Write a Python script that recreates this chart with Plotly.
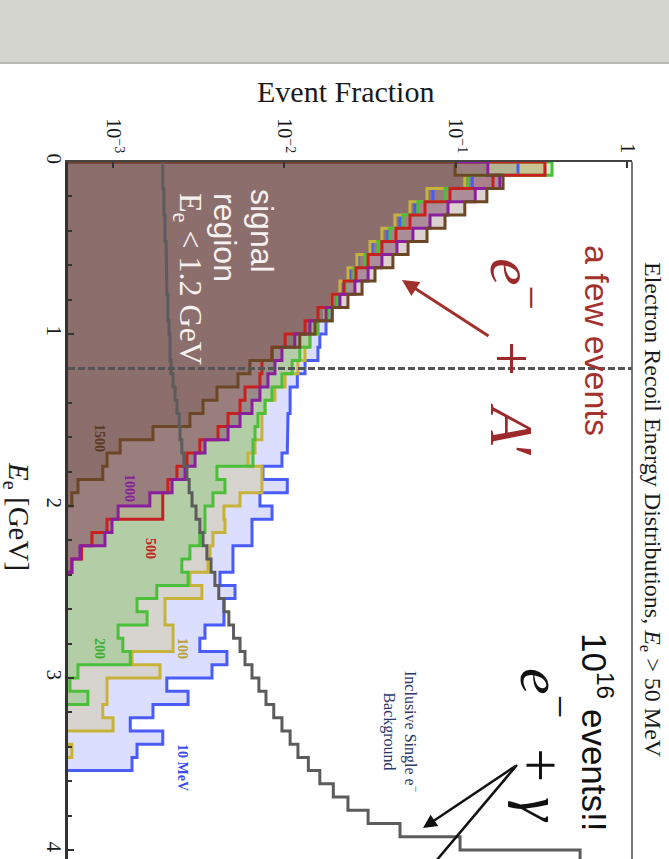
import numpy as np
import plotly.graph_objects as go

# ---------------- data (event fraction per energy bin, E from 0 GeV upward) ----------------
n_bins = 52
e_max = 4.0
signal_labels = ["10 MeV", "100", "200", "500", "1000", "1500"]

frac_10MeV = [0.231, 0.125, 0.0737, 0.0578, 0.0473, 0.0402, 0.0325, 0.0269, 0.0241, 0.0220,
              0.0203, 0.0190, 0.0175, 0.0161, 0.0157, 0.0132, 0.0119, 0.0108, 0.0108, 0.0105,
              0.0105, 0.0104, 0.00968, 0.0075, 0.0104, 0.0072, 0.00847, 0.00647, 0.00647, 0.00501,
              0.00501, 0.00421, 0.00515, 0.00444, 0.00444, 0.00344, 0.00321, 0.00462, 0.00378, 0.00206,
              0.00274, 0.00171, 0.00126, 0.00195, 0.00138, 0.00129]
frac_100 = [0.33, 0.113, 0.068, 0.0541, 0.0442, 0.0371, 0.0316, 0.0265, 0.0235, 0.0211,
            0.0190, 0.0172, 0.0157, 0.0141, 0.0132, 0.0120, 0.0101, 0.00881, 0.00771, 0.0074,
            0.0074, 0.00674, 0.00613, 0.0074, 0.0074, 0.00551, 0.00444, 0.0045, 0.00383, 0.00368,
            0.00358, 0.00281, 0.0033, 0.00201, 0.00201, 0.00224, 0.00224, 0.00129, 0.00188, 0.000922,
            0.000922, 0.000871, 0.001, 0, 0.000575]
frac_200 = [0.365, 0.118, 0.0866, 0.0602, 0.0492, 0.0413, 0.0352, 0.0296, 0.0255, 0.0226,
            0.0203, 0.018, 0.0157, 0.0141, 0.0123, 0.0111, 0.00968, 0.00847, 0.00771, 0.00701,
            0.00674, 0.00656, 0.00656, 0.00404, 0.0045, 0.00383, 0.00344, 0.00344, 0.00321, 0.00281,
            0.00252, 0.00274, 0.0018, 0.00138, 0.00158, 0.00107, 0.00114, 0.00126, 0.000624, 0.00056,
            0.000713]
frac_500 = [0.332, 0.165, 0.0926, 0.0662, 0.0541, 0.0448, 0.0371, 0.0308, 0.0262, 0.0223,
            0.019, 0.0157, 0.0132, 0.0101, 0.00847, 0.0074, 0.0072, 0.00589, 0.00551, 0.00469,
            0.0041, 0.00321, 0.0027, 0.00236, 0.00209, 0.00195, 0.00195, 0.000922, 0.000753, 0.000655,
            0.000575]
frac_1000 = [0.154, 0.181, 0.13, 0.0902, 0.0708, 0.0563, 0.0454, 0.0371, 0.0308, 0.0258,
             0.0211, 0.0175, 0.0141, 0.0115, 0.00968, 0.00881, 0.00802, 0.0072, 0.00647, 0.00551,
             0.00469, 0.00344, 0.00301, 0.00263, 0.00221, 0.00164, 0.00107, 0.000986, 0.000897, 0.000641,
             0.000575]
frac_1500 = [0.0991, 0.189, 0.152, 0.113, 0.0866, 0.068, 0.0527, 0.043, 0.0338, 0.0284,
             0.0235, 0.019, 0.0151, 0.0123, 0.00847, 0.00629, 0.00536, 0.00404, 0.00335, 0.00281,
             0.00171, 0.0011, 0.000922, 0.000871, 0.000624, 0.000575]
frac_background = [1.95e-3, 1.95e-3, 1.98e-3, 1.98e-3, 2.01e-3, 2.01e-3, 2.04e-3, 2.04e-3, 2.06e-3, 2.06e-3,
                   2.09e-3, 2.09e-3, 2.12e-3, 2.15e-3, 2.15e-3, 2.18e-3, 2.24e-3, 2.30e-3, 2.36e-3, 2.43e-3,
                   2.46e-3, 2.52e-3, 2.59e-3, 2.70e-3, 2.78e-3, 2.89e-3, 3.05e-3, 3.21e-3, 3.35e-3, 3.53e-3,
                   3.73e-3, 3.93e-3, 4.14e-3, 4.44e-3, 4.74e-3, 5.05e-3, 5.51e-3, 5.89e-3, 6.47e-3, 7.10e-3,
                   7.81e-3, 8.67e-3, 9.68e-3, 1.08e-2, 1.20e-2, 1.38e-2, 1.61e-2, 1.93e-2, 2.35e-2, 3.08e-2,
                   4.73e-2, 0.106, 0.532]

signal_cut = 1.2
x_tick_vals = [1e-3, 1e-2, 1e-1, 1]
x_tick_text = ["10<sup>\u22123</sup>", "10<sup>\u22122</sup>", "10<sup>\u22121</sup>", "1"]
e_tick_vals = [0, 1, 2, 3, 4]

# ---------------- styling ----------------
W, H = 669, 859
L, R, T, B = 68, 37, 162, 0
PX_PER_GEV = 172.0
E_BOTTOM = (H - T) / PX_PER_GEV
LOG_RANGE = [-3.263, 0.029]
FLOOR = 1e-5
SERIF = "Liberation Serif, Times New Roman, serif"
SANS = "Liberation Sans, Arial, sans-serif"
NB = "\u00a0"

series = [
    (frac_10MeV, "#4a5cf7", "rgba(80,90,255,0.20)"),
    (frac_100, "#c7b23a", "rgba(200,180,60,0.25)"),
    (frac_200, "#4cbf3a", "rgba(60,190,40,0.23)"),
    (frac_500, "#c8201e", "rgba(200,30,30,0.14)"),
    (frac_1000, "#8a1f9e", "rgba(120,60,100,0.45)"),
    (frac_1500, "#6b4726", "rgba(100,60,50,0.23)"),
]

bin_w = e_max / n_bins


def edges_for(n):
    return [i * bin_w for i in range(n + 1)]


def step_outline(vals):
    ed = edges_for(len(vals))
    xs, ys = [], []
    for i, v in enumerate(vals):
        vv = v if v > 0 else FLOOR
        xs += [vv, vv]
        ys += [ed[i], ed[i + 1]]
    return xs, ys


def step_polygon(vals):
    xs, ys = step_outline(vals)
    return [FLOOR] + xs + [FLOOR], [0.0] + ys + [ys[-1]]


fig = go.Figure()

for vals, lc, fc in series:
    px_, py_ = step_polygon(vals)
    fig.add_trace(go.Scatter(x=px_, y=py_, mode="lines", fill="toself", fillcolor=fc,
                             line=dict(width=0, color="rgba(0,0,0,0)"), hoverinfo="skip",
                             showlegend=False))
for vals, lc, fc in series:
    px_, py_ = step_polygon(vals)
    fig.add_trace(go.Scatter(x=px_, y=py_, mode="lines", line=dict(width=3, color=lc),
                             hoverinfo="skip", showlegend=False))

bx, by = step_outline(frac_background)
fig.add_trace(go.Scatter(x=bx, y=by, mode="lines", line=dict(width=3, color="#5c5c5c"),
                         hoverinfo="skip", showlegend=False))


def P(x, y):
    return (x - L) / (W - L - R), (H - y) / (H - T - B)


shapes = []
# grey header band
x0, y0 = P(0, 63)
x1, y1 = P(W, 0)
shapes.append(dict(type="rect", xref="paper", yref="paper", x0=x0, x1=x1, y0=y0, y1=y1,
                   fillcolor="#d5d5cf", line=dict(width=0), layer="below"))
xa, ya = P(0, 63)
xb, _ = P(W, 63)
shapes.append(dict(type="line", xref="paper", yref="paper", x0=xa, x1=xb, y0=ya, y1=ya,
                   line=dict(color="#b9b9b3", width=2)))
# right frame
shapes.append(dict(type="line", xref="paper", yref="paper", x0=1, x1=1, y0=0, y1=1,
                   line=dict(color="#777777", width=2)))
# signal region cut
shapes.append(dict(type="line", xref="paper", yref="y", x0=0, x1=1, y0=signal_cut, y1=signal_cut,
                   line=dict(color="#555555", width=3, dash="7px,3px")))
# black arrow second line
sx0, sy0 = P(517, 765)
sx1, sy1 = P(436, 861)
shapes.append(dict(type="line", xref="paper", yref="paper", x0=sx0, y0=sy0, x1=sx1, y1=sy1,
                   line=dict(color="#111111", width=2.5)))

ann = []


def text(x, y, s, size, color, family=SERIF, angle=90):
    xx, yy = P(x, y)
    ann.append(dict(xref="paper", yref="paper", x=xx, y=yy, text=s, showarrow=False,
                    textangle=angle, xanchor="center", yanchor="middle",
                    font=dict(family=family, size=size, color=color)))


def arrow(hx, hy, tx, ty, color, width):
    xx, yy = P(hx, hy)
    ann.append(dict(xref="paper", yref="paper", x=xx, y=yy, text="", showarrow=True,
                    ax=tx - hx, ay=ty - hy, arrowcolor=color, arrowwidth=width,
                    arrowhead=2, arrowsize=1.1, standoff=0, startstandoff=0))


text(345, 91, "Event Fraction", 30, "#1a1a1a", angle=0)
text(651, 510, "Electron Recoil Energy Distributions, <i>E</i><sub>e</sub> > 50 MeV", 24, "#1a1a1a")
text(17, 516, "<i>E</i><sub>e</sub> [GeV]", 29, "#1a1a1a")

text(262, 231, "signal", 32, "#f6f1f1", family=SANS)
text(225, 237, "region", 32, "#f6f1f1", family=SANS)
text(189, 279, "E<sub>e</sub> < 1.2 GeV", 32, "#f6f1f1")

text(597, 340, "a few events", 34, "#a3322e", family=SANS)
text(517, 358, "<i>e</i><sup>\u2212</sup>" + NB * 2 + "+" + NB * 2 + "<i>A</i>\u2032", 62, "#9c2a2a")
text(597, 732, "10<sup>16</sup> events!!", 35, "#111111", family=SANS)
text(546, 745, "<i>e</i><sup>\u2212</sup>" + NB * 2 + "+" + NB + "<i>\u03b3</i>", 60, "#111111")
text(401, 731, "Inclusive Single e<sup>\u2212</sup><br>Background", 16, "#2c3a6a")

label_pos = {"1500": (100, 438, "#5a3a1e"), "1000": (130, 488, "#8a1f9e"), "500": (151, 548, "#c8201e"),
             "200": (100, 648, "#3fae30"), "100": (183, 648, "#b8a42e"), "10 MeV": (183, 767, "#3a4cf0")}
for lab in signal_labels:
    x, y, c = label_pos[lab]
    text(x, y, "<b>" + lab + "</b>", 14, c)

arrow(402, 280, 490, 337, "#a0302c", 3)
arrow(423, 828, 517, 765, "#111111", 2.5)

fig.update_layout(
    width=W, height=H, margin=dict(l=L, r=R, t=T, b=B, pad=0),
    paper_bgcolor="white", plot_bgcolor="white",
    shapes=shapes, annotations=ann, showlegend=False,
    xaxis=dict(type="log", range=LOG_RANGE, side="top", showgrid=False, zeroline=False,
               showline=True, linecolor="#444444", linewidth=1.5,
               tickvals=x_tick_vals, ticktext=x_tick_text, tickangle=90,
               ticks="inside", ticklen=6, tickwidth=1.5, tickcolor="#333333",
               tickfont=dict(family=SERIF, size=20, color="#1a1a1a")),
    yaxis=dict(range=[E_BOTTOM, 0], showgrid=False, zeroline=False,
               showline=True, linecolor="#333333", linewidth=2.5,
               tickvals=e_tick_vals, tickangle=90, ticklabelstandoff=-7,
               ticks="inside", ticklen=6, tickwidth=2, tickcolor="#333333",
               minor=dict(dtick=0.2, ticks="inside", ticklen=4, tickwidth=1.5, tickcolor="#333333"),
               tickfont=dict(family=SERIF, size=21, color="#1a1a1a")),
)

fig.write_html("out.html")
